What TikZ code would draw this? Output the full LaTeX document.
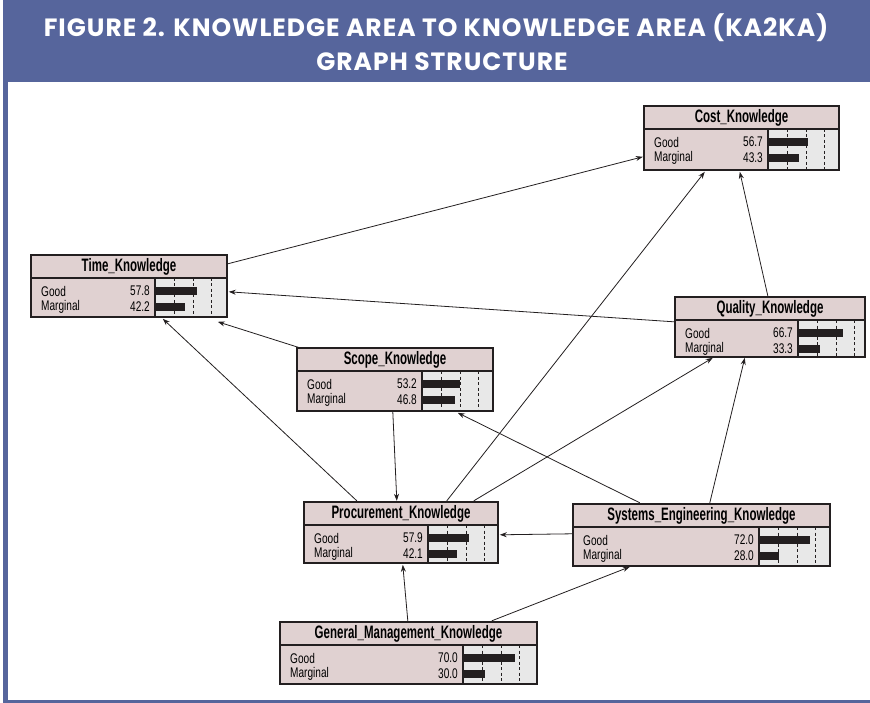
\documentclass[tikz,border=0pt]{standalone}
\usepackage{fontspec}
\usetikzlibrary{calc,fit,arrows.meta}
\setmainfont{Liberation Sans}
\newfontfamily\condf[FakeStretch=0.72]{Liberation Sans}
\newfontfamily\condhf[FakeStretch=0.64]{Liberation Sans}
\newfontfamily\titlef[LetterSpace=4]{Poppins}
\definecolor{bandblue}{RGB}{86,101,156}
\definecolor{hdrfill}{RGB}{224,209,209}
\definecolor{panelfill}{RGB}{232,232,232}
\definecolor{ink}{RGB}{35,31,32}
\tikzset{
  frame/.style={draw=ink,line width=2.2pt},
  sepline/.style={draw=ink,line width=1.4pt},
  dl/.style={draw=ink,line width=0.9pt,dash pattern=on 3pt off 2.5pt},
  barfill/.style={fill=ink},
  arr/.style={draw=ink,line width=0.8pt,-{Stealth[length=7pt,width=5pt]}},
  hdrtext/.style={font=\condhf\bfseries\fontsize{18}{18}\selectfont,inner sep=0},
  bodytext/.style={font=\condf\fontsize{14}{14}\selectfont,inner sep=0},
  titletext/.style={font=\titlef\bfseries\fontsize{25}{25}\selectfont,text=white,inner sep=0}
}
% #1 name, #2 label, #3 x1, #4 y1, #5 x2, #6 y2, #7 xv, #8 good, #9 marginal
\newcommand\kabox[9]{%
  \pgfmathsetmacro\yh{#4+23}%
  \pgfmathsetmacro\pw{#5-#7}%
  \pgfmathsetmacro\gb{#7+#8/100*\pw}%
  \pgfmathsetmacro\mb{#7+#9/100*\pw}%
  \pgfmathsetmacro\yg{\yh+13}%
  \pgfmathsetmacro\ym{\yh+29}%
  \fill[hdrfill] (#3,#4) rectangle (#5,#6);
  \fill[panelfill] (#7,\yh) rectangle (#5,#6);
  \foreach \dd in {19,38,56} {\draw[dl] ({#7+\dd},\yh) -- ({#7+\dd},#6);}
  \fill[barfill] (#7,{\yg-3.7}) rectangle (\gb,{\yg+3.7});
  \fill[barfill] (#7,{\ym-3.7}) rectangle (\mb,{\ym+3.7});
  \draw[sepline] (#7,\yh) -- (#7,#6);
  \draw[frame] (#3,#4) rectangle (#5,\yh);
  \draw[frame] (#3,\yh) rectangle (#5,#6);
  \node[hdrtext] at ({(#3+#5)/2},{(#4+\yh)/2}) {#2};
  \node[bodytext,anchor=west] at ({#3+10},\yg) {Good};
  \node[bodytext,anchor=west] at ({#3+10},\ym) {Marginal};
  \node[bodytext,anchor=east] at ({#7-5},\yg) {#8};
  \node[bodytext,anchor=east] at ({#7-5},\ym) {#9};
  \node[fit={(#3,#4) (#5,#6)},inner sep=0] (#1) {};
}
\begin{document}
\begin{tikzpicture}[x=1pt,y=-1pt]
\useasboundingbox (0,0) rectangle (870,703);
\fill[white] (0,0) rectangle (870,703);
% frame
\fill[bandblue] (3,0) rectangle (870,82);
\fill[bandblue] (3,0) rectangle (8,703);
\fill[bandblue] (3,700) rectangle (870,703);
\node[titletext] (t1) at (436,28) {FIGURE 2. KNOWLEDGE AREA TO KNOWLEDGE AREA (KA2KA)};
\node[titletext] (t2) at (442,62) {GRAPH STRUCTURE};
% boxes
\kabox{cost}{Cost\_Knowledge}{644}{106}{839}{170}{768}{56.7}{43.3}
\kabox{time}{Time\_Knowledge}{31}{255}{227}{317}{155}{57.8}{42.2}
\kabox{scope}{Scope\_Knowledge}{297}{348}{493}{411}{422}{53.2}{46.8}
\kabox{quality}{Quality\_Knowledge}{675}{297}{865}{357}{798}{66.7}{33.3}
\kabox{proc}{Procurement\_Knowledge}{304}{502}{498}{563}{428}{57.9}{42.1}
\kabox{sys}{Systems\_Engineering\_Knowledge}{573}{504}{830}{566}{759}{72.0}{28.0}
\kabox{gm}{General\_Management\_Knowledge}{280}{622}{537}{684}{463}{70.0}{30.0}
% connectors
\draw[arr] ($(time.north west)+(197,9)$) -- ($(cost.north west)+(-1,51)$);
\draw[arr] ($(quality.north west)+(-1,25)$) -- ($(time.north west)+(198,37)$);
\draw[arr] ($(quality.north west)+(93,-1)$) -- ($(cost.north west)+(96,66)$);
\draw[arr] ($(scope.north west)+(3,0)$) -- ($(time.north west)+(187,67)$);
\draw[arr] ($(proc.north west)+(53,-1)$) -- ($(time.north west)+(132,64)$);
\draw[arr] ($(scope.north west)+(96,64)$) -- ($(proc.north west)+(93,-1)$);
\draw[arr] ($(proc.north west)+(143,-1)$) -- ($(cost.north west)+(61,66)$);
\draw[arr] ($(proc.north west)+(170,-1)$) -- ($(quality.north west)+(38,61)$);
\draw[arr] ($(sys.north west)+(67,-1)$) -- ($(scope.north west)+(161,65)$);
\draw[arr] ($(sys.north west)+(137,-1)$) -- ($(quality.north west)+(70,61)$);
\draw[arr] ($(sys.north west)+(-1,30)$) -- ($(proc.north west)+(196,33)$);
\draw[arr] ($(gm.north west)+(128,-1)$) -- ($(proc.north west)+(99,63)$);
\draw[arr] ($(gm.north west)+(212,-1)$) -- ($(sys.north west)+(57,63)$);
\end{tikzpicture}
\end{document}
